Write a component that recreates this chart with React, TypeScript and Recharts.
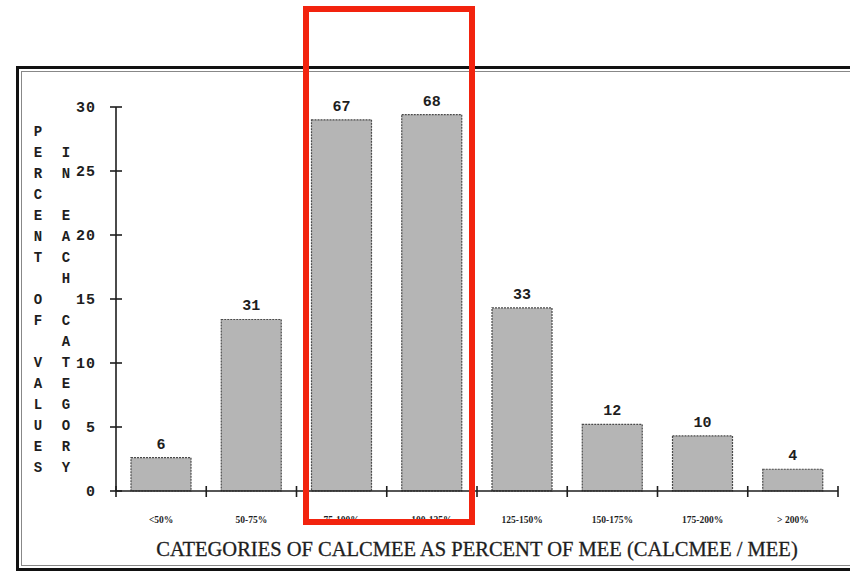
import React from 'react';
import { BarChart, Bar, XAxis, YAxis, LabelList } from 'recharts';

const categories = ['<50%', '50-75%', '75-100%', '100-125%', '125-150%', '150-175%', '175-200%', '> 200%'];
const percents = [2.6, 13.4, 29.0, 29.4, 14.3, 5.2, 4.3, 1.7];
const counts = [6, 31, 67, 68, 33, 12, 10, 4];
const yTicks = [0, 5, 10, 15, 20, 25, 30];
const yLabelCol1 = 'PERCENT OF VALUES';
const yLabelCol2 = 'IN EACH CATEGORY';
const xTitle = 'CATEGORIES OF CALCMEE AS PERCENT OF MEE (CALCMEE / MEE)';

const data = categories.map((c, i) => ({ category: c, percent: percents[i], count: counts[i] }));

const INK = '#1e1e1e';
const MONO = '"Liberation Mono", "DejaVu Sans Mono", monospace';
const SERIF = '"Liberation Serif", "DejaVu Serif", serif';

const YTick = (props: any) => {
  const { x, y, payload } = props;
  return (
    <g>
      <line x1={x - 6} x2={x + 6} y1={y} y2={y} stroke={INK} strokeWidth={1.6} />
      <text x={x - 20} y={y + 5} textAnchor="end" fontFamily={MONO} fontWeight="bold" fontSize={15} fill={INK} letterSpacing={1}>
        {payload.value}
      </text>
    </g>
  );
};

const XTick = (props: any) => {
  const { x, y, payload, index } = props;
  const off = payload && payload.offset ? payload.offset : 45;
  return (
    <g>
      {index === 0 && <line x1={x - off} x2={x - off} y1={y - 5} y2={y + 6} stroke={INK} strokeWidth={1.6} />}
      <line x1={x + off} x2={x + off} y1={y - 5} y2={y + 6} stroke={INK} strokeWidth={1.6} />
      <text x={x} y={y + 32} textAnchor="middle" fontFamily={SERIF} fontWeight="bold" fontSize={9.5} fill={INK}>
        {payload.value}
      </text>
    </g>
  );
};

const YLabel = () => {
  const rowH = 21;
  const top = 131;
  return (
    <g fontFamily={MONO} fontWeight="bold" fontSize={14} fill={INK}>
      {yLabelCol1.split('').map((ch, i) => (
        <text key={'a' + i} x={38} y={top + i * rowH + 5} textAnchor="middle">{ch}</text>
      ))}
      {yLabelCol2.split('').map((ch, i) => (
        <text key={'b' + i} x={66} y={top + (i + 1) * rowH + 5} textAnchor="middle">{ch}</text>
      ))}
    </g>
  );
};

const XTitle = () => (
  <text x={477} y={556} textAnchor="middle" fontFamily={SERIF} fontSize={20.5} fill={INK} stroke={INK} strokeWidth={0.3}>
    {xTitle}
  </text>
);

export default function App() {
  return (
    <div style={{ position: 'absolute', left: 0, top: 0, width: 850, height: 571, overflow: 'hidden', background: '#fff' }}>
      <div style={{ position: 'absolute', left: 16, top: 66, width: 900, height: 499, border: '3px solid #111' }} />
      <div style={{ position: 'absolute', left: 21, top: 71, width: 900, height: 493, border: '1px solid #888' }} />
      <div style={{ position: 'absolute', left: 0, top: 0 }}>
        <BarChart width={850} height={571} data={data} margin={{ top: 107, right: 12, left: 56, bottom: 50 }} barCategoryGap={15}>
          <XAxis
            dataKey="category"
            height={30}
            tick={<XTick />}
            tickSize={0}
            tickMargin={0}
            tickLine={false}
            axisLine={{ stroke: INK, strokeWidth: 1.6 }}
            interval={0}
            label={<XTitle />}
          />
          <YAxis
            width={60}
            domain={[0, 30]}
            ticks={yTicks}
            tick={<YTick />}
            tickSize={0}
            tickMargin={0}
            tickLine={false}
            axisLine={{ stroke: INK, strokeWidth: 1.6 }}
            label={<YLabel />}
          />
          <Bar dataKey="percent" fill="#b5b5b5" stroke="#4a4a4a" strokeWidth={1.2} strokeDasharray="2 1" isAnimationActive={false}>
            <LabelList dataKey="count" position="top" offset={9} fontFamily={MONO} fontWeight="bold" fontSize={15} fill={INK} />
          </Bar>
        </BarChart>
      </div>
      <div style={{ position: 'absolute', left: 303, top: 6, width: 160, height: 507, border: '6px solid #f2230e' }} />
    </div>
  );
}
